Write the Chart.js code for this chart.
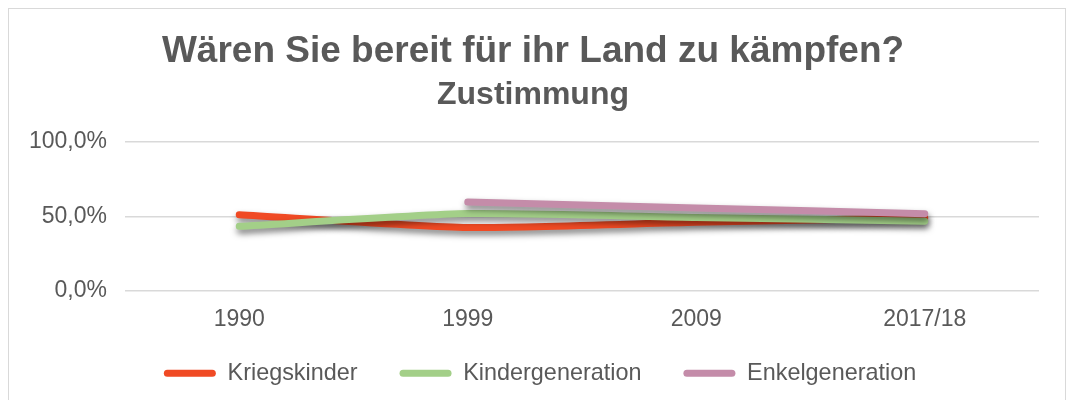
<!DOCTYPE html>
<html><head><meta charset="utf-8">
<script src="https://cdn.jsdelivr.net/npm/chart.js@4.4.1/dist/chart.umd.min.js"></script>
<style>
html,body{margin:0;padding:0;background:#fff;}
#wrap{position:absolute;left:0;top:0;width:1069px;height:400px;}
#frame{position:absolute;left:8px;top:8px;width:1058px;height:400px;border:1px solid #d9d9d9;box-sizing:border-box;}
</style></head>
<body>
<div id="frame"></div>
<div id="wrap"><canvas id="c" width="1069" height="400"></canvas></div>
<script>
const categories = ['1990', '1999', '2009', '2017/18'];
const kriegskinder = [51.0, 42.5, 46.0, 49.0];
const kindergeneration = [43.3, 51.8, 49.2, 46.7];
const enkelgeneration = [null, 59.5, 55.6, 51.7];
const yTicks = [0, 50, 100];

const textColor = '#595959';
const font = 'Liberation Sans, Arial, sans-serif';

const shadowPlugin = {
  id: 'shadow',
  beforeDatasetsDraw(chart) {
    const ctx = chart.ctx;
    ctx.save();
    ctx.shadowColor = 'rgba(0,0,0,0.5)';
    ctx.shadowBlur = 6;
    ctx.shadowOffsetX = 1;
    ctx.shadowOffsetY = 4;
  },
  afterDatasetsDraw(chart) { chart.ctx.restore(); }
};

// place the legend row so that its items sit at y ~ 372
const legendShift = {
  id: 'legendShift',
  afterLayout(chart) {
    const lg = chart.legend;
    if (!lg) return;
    lg.top = 319.5;
    lg.bottom = 400;
    lg.height = lg.bottom - lg.top;
    lg.left += 7; lg.right += 7;
    if (lg.adjustHitBoxes) lg.adjustHitBoxes();
  }
};

function ds(label, data, color, order) {
  return {label, data, borderColor: color, backgroundColor: color, borderWidth: 7, order,
    borderCapStyle: 'round', borderJoinStyle: 'round', pointRadius: 0, tension: 0.2,
    spanGaps: false};
}

new Chart(document.getElementById('c'), {
  type: 'line',
  data: {labels: categories, datasets: [
    ds('Kriegskinder', kriegskinder, '#F04A24', 3),
    ds('Kindergeneration', kindergeneration, '#A3CF88', 2),
    ds('Enkelgeneration', enkelgeneration, '#C48CA9', 1)
  ]},
  options: {
    responsive: false, animation: false,
    layout: {padding: {left: 27, right: 30, top: 29.6, bottom: 0}},
    plugins: {
      title: {display: true, text: 'Wären Sie bereit für ihr Land zu kämpfen?', color: textColor,
        font: {family: font, size: 37, weight: 'bold', lineHeight: 1.2}, padding: {top: 0, bottom: 1.9}},
      subtitle: {display: true, text: 'Zustimmung', color: textColor,
        font: {family: font, size: 32, weight: 'bold', lineHeight: 1.2}, padding: {top: 0, bottom: 27.3}},
      legend: {position: 'bottom', maxHeight: 51.4,
        labels: {color: textColor, font: {family: font, size: 23.4},
        boxWidth: 52, boxHeight: 7, padding: 42, useBorderRadius: true, borderRadius: 3.5,
        generateLabels(chart) {
          return chart.data.datasets.map((d, i) => ({text: d.label, fillStyle: d.borderColor,
            strokeStyle: d.borderColor, lineWidth: 0, datasetIndex: i, fontColor: textColor, borderRadius: 3.5}));
        }}},
      tooltip: {enabled: false}
    },
    scales: {
      x: {offset: true, grid: {display: false, drawTicks: false}, border: {display: false},
        ticks: {color: textColor, font: {family: font, size: 23}, padding: 15, maxRotation: 0}},
      y: {min: 0, max: 100,
        afterBuildTicks(axis) { axis.ticks = yTicks.map(v => ({value: v})); },
        afterFit(axis) { axis.width = 98; },
        grid: {color: '#d9d9d9', lineWidth: 1.5, drawTicks: false},
        border: {display: false},
        ticks: {color: textColor, font: {family: font, size: 23}, padding: 18,
          callback: v => v.toFixed(1).replace('.', ',') + '%'}}
    }
  },
  plugins: [shadowPlugin, legendShift]
});
</script>
</body></html>
